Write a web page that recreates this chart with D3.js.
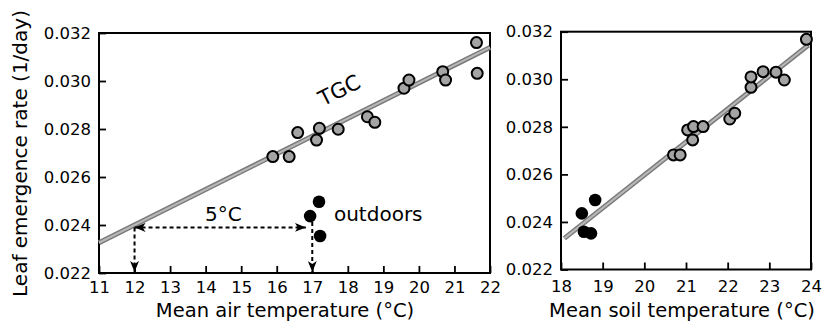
<!DOCTYPE html>
<html>
<head>
<meta charset="utf-8">
<script src="https://cdn.jsdelivr.net/npm/d3@7"></script>
<style>
  body { margin: 0; background: #fff; }
  text { font-family: "DejaVu Sans", sans-serif; fill: #000; }
</style>
</head>
<body>
<div id="chart"></div>
<script>
// Data
var airTemp = [15.89, 16.35, 16.59, 17.12, 17.20, 17.73, 18.55, 18.76, 19.58, 19.72, 20.67, 20.75, 21.62, 21.64];
var airRate = [0.02685, 0.02685, 0.02785, 0.02754, 0.02803, 0.02799, 0.02851, 0.02828, 0.0297, 0.03004, 0.03039, 0.03004, 0.0316, 0.03032];
var outdoorAirTemp = [17.19, 16.94, 17.22];
var outdoorAirRate = [0.02497, 0.02437, 0.02354];

var soilTemp = [20.70, 20.86, 21.04, 21.16, 21.18, 21.41, 22.05, 22.17, 22.56, 22.56, 22.85, 23.16, 23.36, 23.89];
var soilRate = [0.02682, 0.02682, 0.02787, 0.02745, 0.02801, 0.02801, 0.02833, 0.02857, 0.02966, 0.0301, 0.03032, 0.0303, 0.02997, 0.03168];
var outdoorSoilTemp = [18.82, 18.50, 18.55, 18.72];
var outdoorSoilRate = [0.02492, 0.02436, 0.02359, 0.02352];

// TGC regression lines (end points)
var airFitX = [11, 22];
var airFitY = [0.02326, 0.03140];
var soilFitX = [18.08, 23.94];
var soilFitY = [0.02331, 0.03144];

// 5 degree annotation
var arrowSpanX = [12, 16.82];
var arrowSpanY = 0.0239;
var dropX = [12, 17];
var dropTop = [0.0239, 0.02412];

var rateTicks = [0.022, 0.024, 0.026, 0.028, 0.030, 0.032];
var airTicks = d3.range(11, 23);
var soilTicks = d3.range(18, 25);

var svgWidth = 832;
var svgHeight = 333;

var svg = d3.select("#chart")
  .append("svg")
  .attr("width", svgWidth)
  .attr("height", svgHeight);

// arrow head
svg.append("defs").append("marker")
  .attr("id", "head")
  .attr("markerUnits", "userSpaceOnUse")
  .attr("viewBox", "0 0 11 9")
  .attr("markerWidth", 11)
  .attr("markerHeight", 9)
  .attr("refX", 11)
  .attr("refY", 4.5)
  .attr("orient", "auto-start-reverse")
  .append("path")
  .attr("d", "M0,0 L11,4.5 L0,9 L3,4.5 Z")
  .attr("fill", "#000");

function drawPanel(opts) {
  var x = d3.scaleLinear().domain(opts.xDomain).range([opts.left, opts.right]);
  var y = d3.scaleLinear().domain([0.022, 0.032]).range([opts.bottom, opts.top]);

  var g = svg.append("g");

  var xAxis = g.append("g")
    .attr("transform", `translate(0, ${opts.bottom})`)
    .call(d3.axisBottom(x).tickValues(opts.xTicks).tickFormat(d3.format("d"))
      .tickSizeInner(-7).tickSizeOuter(0).tickPadding(opts.xPad));
  xAxis.select(".domain").remove();

  var yAxis = g.append("g")
    .attr("transform", `translate(${opts.left}, 0)`)
    .call(d3.axisLeft(y).tickValues(rateTicks).tickFormat(d3.format(".3f"))
      .tickSizeInner(-7).tickSizeOuter(0).tickPadding(8));
  yAxis.select(".domain").remove();

  g.selectAll(".tick line").attr("stroke", "#000").attr("stroke-width", 1.8);
  g.selectAll(".tick text")
    .style("font-family", "DejaVu Sans, sans-serif")
    .style("font-size", "16.5px");

  // frame
  g.append("rect")
    .attr("x", opts.left)
    .attr("y", opts.top)
    .attr("width", opts.right - opts.left)
    .attr("height", opts.bottom - opts.top)
    .attr("fill", "none")
    .attr("stroke", "#000")
    .attr("stroke-width", 2);

  // regression line
  var fit = opts.fitX.map((d, i) => [x(d), y(opts.fitY[i])]);
  g.append("path")
    .attr("d", d3.line()(fit))
    .attr("stroke", "#7a7a7a")
    .attr("stroke-width", 5)
    .attr("fill", "none");
  g.append("path")
    .attr("d", d3.line()(fit))
    .attr("stroke", "#b8b8b8")
    .attr("stroke-width", 2)
    .attr("fill", "none");

  // TGC points
  g.selectAll(".tgc")
    .data(opts.tx)
    .enter()
    .append("circle")
    .attr("cx", d => x(d))
    .attr("cy", (d, i) => y(opts.ty[i]))
    .attr("r", 5.5)
    .attr("fill", "#a4a4a4")
    .attr("stroke", "#000")
    .attr("stroke-width", 2);

  // outdoor points
  g.selectAll(".out")
    .data(opts.ox)
    .enter()
    .append("circle")
    .attr("cx", d => x(d))
    .attr("cy", (d, i) => y(opts.oy[i]))
    .attr("r", 6.3)
    .attr("fill", "#000");

  g.append("text")
    .attr("x", opts.titleX)
    .attr("y", 317)
    .attr("text-anchor", "middle")
    .style("font-size", "19.5px")
    .text(opts.title);

  return {x: x, y: y, g: g};
}

var air = drawPanel({
  left: 99, right: 490, top: 33, bottom: 273,
  xDomain: [11, 22], xTicks: airTicks, xPad: 8,
  fitX: airFitX, fitY: airFitY,
  tx: airTemp, ty: airRate, ox: outdoorAirTemp, oy: outdoorAirRate,
  title: "Mean air temperature (\u00B0C)", titleX: 285
});

var soil = drawPanel({
  left: 561, right: 811, top: 31.7, bottom: 269.5,
  xDomain: [18, 24], xTicks: soilTicks, xPad: 11,
  fitX: soilFitX, fitY: soilFitY,
  tx: soilTemp, ty: soilRate, ox: outdoorSoilTemp, oy: outdoorSoilRate,
  title: "Mean soil temperature (\u00B0C)", titleX: 682
});

// y axis title
svg.append("text")
  .attr("transform", "translate(27, 153.5) rotate(-90)")
  .attr("text-anchor", "middle")
  .style("font-size", "20px")
  .text("Leaf emergence rate (1/day)");

// annotations on the air panel
var ax = air.x, ay = air.y;

air.g.append("line")
  .attr("x1", ax(arrowSpanX[0]))
  .attr("x2", ax(arrowSpanX[1]))
  .attr("y1", ay(arrowSpanY))
  .attr("y2", ay(arrowSpanY))
  .attr("stroke", "#000")
  .attr("stroke-width", 2)
  .attr("stroke-dasharray", "4,3")
  .attr("marker-start", "url(#head)")
  .attr("marker-end", "url(#head)");

air.g.selectAll(".drop")
  .data(dropX)
  .enter()
  .append("line")
  .attr("x1", d => ax(d))
  .attr("x2", d => ax(d))
  .attr("y1", (d, i) => ay(dropTop[i]))
  .attr("y2", ay(0.022) - 1)
  .attr("stroke", "#000")
  .attr("stroke-width", 2)
  .attr("stroke-dasharray", "4,3")
  .attr("marker-end", "url(#head)");

air.g.append("text")
  .attr("x", ax(14.5))
  .attr("y", ay(arrowSpanY) - 6)
  .attr("text-anchor", "middle")
  .style("font-size", "20px")
  .text("5\u00B0C");

air.g.append("text")
  .attr("x", ax(17.61))
  .attr("y", ay(arrowSpanY) - 6)
  .style("font-size", "20px")
  .text("outdoors");

// TGC label along the line
var angle = Math.atan2(ay(airFitY[1]) - ay(airFitY[0]), ax(airFitX[1]) - ax(airFitX[0])) * 180 / Math.PI;
air.g.append("text")
  .attr("transform", `translate(${ax(17.3)}, ${ay(0.02894)}) rotate(${angle})`)
  .style("font-size", "21px")
  .text("TGC");
</script>
</body>
</html>
